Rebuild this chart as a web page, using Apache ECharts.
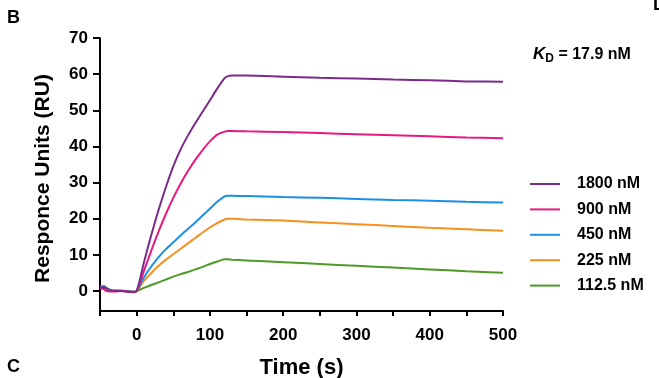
<!DOCTYPE html>
<html>
<head>
<meta charset="utf-8">
<script src="https://cdn.jsdelivr.net/npm/echarts@6/dist/echarts.min.js"></script>
<style>html,body{margin:0;padding:0;background:#fff}#c{width:659px;height:378px}</style>
</head>
<body>
<div id="c"></div>
<script>
var time = [-50,-44,-42,-36,-30,-20,-10,-5,0,10,20,30,40,50,60,70,80,90,100,110,120,124,130,150,200,250,300,350,400,450,500];
var c1800 = [1.0,1.1,0.8,0.2,0.0,0.0,-0.2,-0.2,0,8,15.5,22.5,28.8,34.5,39.2,43,46.4,49.6,52.8,56,58.9,59.4,59.6,59.6,59.3,59.0,58.8,58.5,58.3,58.0,57.9];
var c900 = [0.7,0.5,0.1,-0.1,-0.1,0.0,-0.2,-0.3,0,5.6,11.2,16.5,21.4,25.8,29.7,33.2,36.3,39,41.4,43.3,44.1,44.3,44.3,44.2,44.0,43.7,43.4,43.1,42.8,42.5,42.3];
var c450 = [1.0,1.2,0.9,0.3,0.1,0.1,-0.1,-0.2,0,3.8,6.8,9.4,11.6,13.5,15.4,17.2,19.0,20.9,22.8,24.7,26.2,26.4,26.4,26.3,26.0,25.8,25.5,25.2,25.0,24.7,24.5];
var c225 = [1.1,1.2,0.9,0.3,0.2,0.1,-0.1,-0.2,0,2.8,5.0,7.0,8.7,10.2,11.7,13.2,14.7,16.2,17.6,18.8,19.8,20.0,20.0,19.8,19.5,19.0,18.5,18.0,17.5,17.1,16.7];
var c112 = [1.3,1.4,1.0,0.3,0.2,0.1,-0.1,-0.3,0,0.9,1.7,2.4,3.2,4.0,4.7,5.3,6.0,6.7,7.5,8.2,8.8,8.8,8.7,8.5,8.0,7.5,7.0,6.5,6.0,5.5,5.1];
var names = ['1800 nM','900 nM','450 nM','225 nM','112.5 nM'];
var colors = ['#7B2A8C','#E8197E','#1B8FE6','#F7901E','#4D9A27'];
var yTicks = [0,10,20,30,40,50,60,70];
var xTickStep = 50;
var xLabelStep = 100;

function pairs(v){ return time.map(function(t,i){ return [t, v[i]]; }); }
var vals = [c1800,c900,c450,c225,c112];
var series = [];
for (var i = vals.length-1; i >= 0; i--) {
  series.push({name: names[i], type: 'line', data: pairs(vals[i]), symbol: 'none', smooth: 0.25,
    lineStyle: {color: colors[i], width: 2}, itemStyle: {color: colors[i]}});
}
var F = 'Liberation Sans, Arial, sans-serif';
var chart = echarts.init(document.getElementById('c'));
chart.setOption({
  animation: false,
  grid: {left: 100, right: 156, top: 38, bottom: 67, containLabel: false, outerBoundsMode: 'none'},
  xAxis: {
    type: 'value', min: -50, max: 500, interval: xTickStep,
    name: 'Time (s)', nameLocation: 'middle', nameGap: 46,
    nameTextStyle: {fontFamily: F, fontWeight: 'bold', fontSize: 22, color: '#000'},
    axisLine: {show: true, onZero: false, lineStyle: {color: '#000', width: 2}},
    axisTick: {show: true, length: 5, lineStyle: {color: '#000', width: 2}},
    axisLabel: {fontFamily: F, fontWeight: 'bold', fontSize: 17, color: '#000', margin: 16,
      showMinLabel: true, showMaxLabel: true,
      formatter: function(v){ return (v >= 0 && v % xLabelStep === 0) ? String(v) : ''; }},
    splitLine: {show: false}
  },
  yAxis: {
    type: 'value', min: -5.5, max: 70,
    name: 'Responce Units (RU)', nameLocation: 'middle', nameGap: 46,
    nameTextStyle: {fontFamily: F, fontWeight: 'bold', fontSize: 21, color: '#000', padding: [0, 8, 0, 0]},
    axisLine: {show: true, onZero: false, lineStyle: {color: '#000', width: 2}},
    axisTick: {show: true, length: 7, customValues: yTicks, lineStyle: {color: '#000', width: 2}},
    axisLabel: {customValues: yTicks, fontFamily: F, fontWeight: 'bold', fontSize: 17, color: '#000', margin: 12},
    splitLine: {show: false}
  },
  legend: {
    orient: 'vertical', left: 525, top: 171, itemWidth: 30, itemHeight: 2, itemGap: 9.4,
    icon: 'rect', data: names,
    textStyle: {fontFamily: F, fontWeight: 'bold', fontSize: 16, color: '#000', padding: [0,0,0,12]}
  },
  graphic: [
    {type: 'text', left: 7, top: 9, style: {text: 'B', font: 'bold 18px ' + F, fill: '#000'}},
    {type: 'text', left: 7, top: 358, style: {text: 'C', font: 'bold 18px ' + F, fill: '#000'}},
    {type: 'text', left: 653, top: -4, style: {text: 'D', font: 'bold 18px ' + F, fill: '#000'}},
    {type: 'text', left: 533, top: 46, style: {
      text: '{i|K}{s|D}{n| = 17.9 nM}',
      rich: {
        i: {fontFamily: F, fontWeight: 'bold', fontStyle: 'italic', fontSize: 17, fill: '#000'},
        s: {fontFamily: F, fontWeight: 'bold', fontSize: 12, fill: '#000', padding: [8,0,0,0]},
        n: {fontFamily: F, fontWeight: 'bold', fontSize: 16, fill: '#000'}
      }
    }}
  ],
  series: series
});
</script>
</body>
</html>
